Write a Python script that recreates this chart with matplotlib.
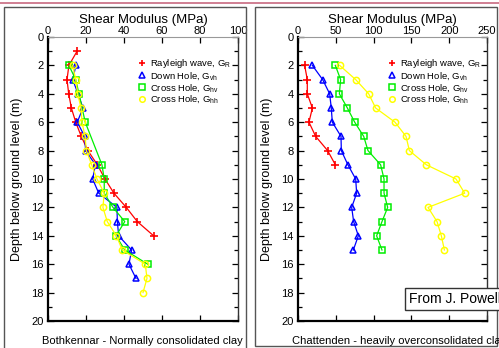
import matplotlib
matplotlib.use("Agg")
import matplotlib.pyplot as plt
from matplotlib.lines import Line2D
from matplotlib.patches import Rectangle

plt.rcParams['font.family'] = ['Liberation Sans', 'DejaVu Sans']
plt.rcParams['mathtext.fontset'] = 'custom'
plt.rcParams['mathtext.rm'] = 'Liberation Sans'
plt.rcParams['mathtext.it'] = 'Liberation Sans'

# ---------------- data: Bothkennar ----------------
b_ray_depth = [1, 2, 3, 4, 5, 6, 7, 8, 9, 10, 11, 12, 13, 14]
b_ray_G = [15.3, 11, 10, 10.9, 12.3, 14.6, 17.5, 21, 26, 30, 34.7, 41.2, 47, 55.6]
b_dh_depth = [2, 3, 4, 5, 6, 7, 8, 9, 10, 11, 12, 13, 14, 15, 16, 17]
b_dh_G = [14.7, 13, 15.8, 18.4, 15.4, 19.3, 19.8, 25, 23.5, 26.7, 36.3, 36.5, 37.2, 44, 42.6, 46.3]
b_hv_depth = [2, 3, 4, 6, 9, 10, 11, 12, 13, 14, 15, 16]
b_hv_G = [11, 14.6, 16.3, 19.6, 28.4, 29.6, 29.6, 34.2, 40.4, 35.8, 40.4, 52.5]
b_hh_depth = [2, 3, 4, 5, 6, 7, 8, 9, 10, 11, 12, 13, 14, 15, 16, 17, 18]
b_hh_G = [13, 14.6, 15.6, 17.4, 17.9, 19.5, 20.2, 23, 25.8, 29.6, 28.9, 31.2, 36, 39.1, 51.2, 52.1, 50]

# ---------------- data: Chattenden ----------------
c_ray_depth = [2, 3, 4, 5, 6, 7, 8, 9]
c_ray_G = [8.8, 12.3, 12.3, 19, 14.5, 23.4, 39.2, 49.4]
c_dh_depth = [2, 3, 4, 5, 6, 7, 8, 9, 10, 11, 12, 13, 14, 15]
c_dh_G = [19, 32.6, 41.9, 44, 45.4, 56.9, 57.3, 66, 76.3, 77.6, 71, 73.6, 79.8, 73.2]
c_hv_depth = [2, 3, 4, 5, 6, 7, 8, 9, 10, 11, 12, 13, 14, 15]
c_hv_G = [49.4, 56.4, 54.7, 65.3, 75, 86.9, 92.6, 109.3, 113.8, 113.8, 118.6, 111.1, 104, 111.1]
c_hh_depth = [2, 3, 4, 5, 6, 7, 8, 9, 10, 11, 12, 13, 14, 15]
c_hh_G = [55.1, 76.3, 93.5, 102.7, 128.3, 142.9, 147.3, 169.8, 209, 220.5, 172, 183.9, 189.6, 193.6]

labels = ['Rayleigh wave, $\\mathregular{G_{R}}$', 'Down Hole, $\\mathregular{G_{vh}}$',
          'Cross Hole, $\\mathregular{G_{hv}}$', 'Cross Hole, $\\mathregular{G_{hh}}$']
colors = ['#ff0000', '#0000ff', '#00ee00', '#ffff00']
markers = ['+', '^', 's', 'o']

left_xticks = [0, 20, 40, 60, 80, 100]
right_xticks = [0, 50, 100, 150, 200, 250]
yticks = [0, 2, 4, 6, 8, 10, 12, 14, 16, 18, 20]
captions = ['Bothkennar - Normally consolidated clay', 'Chattenden - heavily overconsolidated clay']

W, H = 499, 348
fig = plt.figure(figsize=(W / 100, H / 100), dpi=100)

def px(x0, y0, w, h):
    return [x0 / W, 1 - (y0 + h) / H, w / W, h / H]

# decorative panel frames and top line
fig.add_artist(Line2D([0, 1], [1 - 3 / H, 1 - 3 / H], color='#c86a80', lw=1.2, transform=fig.transFigure))
fig.add_artist(Rectangle((4 / W, 1 - 349 / H), 242 / W, 342 / H, transform=fig.transFigure,
                         fill=False, ec='#555555', lw=1.0))
fig.add_artist(Rectangle((255 / W, 1 - 346 / H), 242 / W, 339 / H, transform=fig.transFigure,
                         fill=False, ec='#555555', lw=1.0))

panels = [
    (48, 190, 100, left_xticks,
     [(b_ray_G, b_ray_depth), (b_dh_G, b_dh_depth), (b_hv_G, b_hv_depth), (b_hh_G, b_hh_depth)], 138, 42),
    (298, 189, 250, right_xticks,
     [(c_ray_G, c_ray_depth), (c_dh_G, c_dh_depth), (c_hv_G, c_hv_depth), (c_hh_G, c_hh_depth)], 388, 292),
]

for i, (x0, w, xmax, xt, series, legx, capx) in enumerate(panels):
    ax = fig.add_axes(px(x0, 37, w, 284))
    for (g, d), c, m, lab in zip(series, colors, markers, labels):
        if m == '+':
            ax.plot(g, d, color=c, lw=0.9, marker=m, ms=6, mew=1.2, label=lab)
        else:
            ax.plot(g, d, color=c, lw=0.9, marker=m, ms=4.5, mew=1.1, mfc='none', label=lab)
    ax.set_xlim(0, xmax)
    ax.set_ylim(20, 0)
    ax.set_xticks(xt)
    ax.set_yticks(yticks)
    ax.set_yticks(range(0, 21), minor=True)
    ax.xaxis.set_ticks_position('both')
    ax.yaxis.set_ticks_position('both')
    ax.tick_params(axis='x', which='major', direction='in', length=4, width=0.9,
                   labeltop=True, labelbottom=False, labelsize=8, pad=1)
    ax.tick_params(axis='y', which='major', direction='in', length=4, width=0.9,
                   labelsize=8, pad=3)
    ax.tick_params(axis='y', which='minor', direction='in', length=3, width=0.9)
    ax.set_xlabel('Shear Modulus (MPa)', fontsize=9.5, labelpad=2)
    ax.xaxis.set_label_position('top')
    ax.set_ylabel('Depth below ground level (m)', fontsize=9, labelpad=6)
    ax.spines['left'].set_linewidth(1.6)
    ax.spines['bottom'].set_linewidth(1.6)
    ax.spines['top'].set_color('#999999')
    ax.spines['top'].set_linewidth(0.8)
    ax.spines['right'].set_color('#333333')
    ax.spines['right'].set_linewidth(1.0)

    handles = []
    for c, m in zip(colors, markers):
        if m == '+':
            handles.append(Line2D([], [], color=c, ls='none', marker=m, ms=5, mew=1.2))
        else:
            handles.append(Line2D([], [], color=c, ls='none', marker=m, ms=4, mew=1.1, mfc='none'))
    fig.legend(handles, labels, loc='upper left', bbox_to_anchor=(legx / W, 1 - 57 / H),
               frameon=False, fontsize=6.8, handlelength=0.8, handletextpad=0.5,
               labelspacing=-0.02, borderpad=0, borderaxespad=0)

    fig.text(capx / W, 1 - 341 / H, captions[i], ha='left', va='center', fontsize=8)

fig.text(409 / W, 1 - 299 / H, 'From J. Powell', fontsize=10, ha='left', va='center',
         bbox=dict(boxstyle='square,pad=0.3', fc='white', ec='#333333', lw=1.0))

fig.savefig('out.png', dpi=100)
